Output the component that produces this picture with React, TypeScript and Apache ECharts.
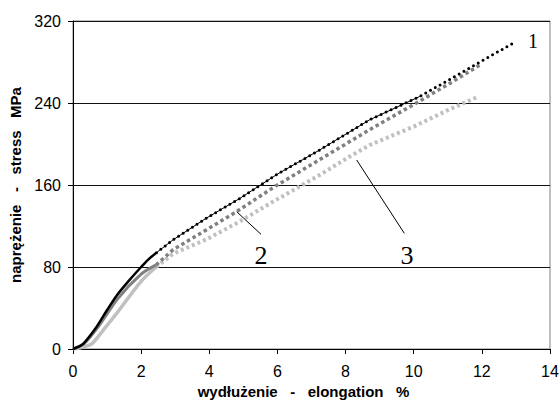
import React, { useEffect, useRef } from "react";
import * as echarts from "echarts";

// Tick labels
const xTicks = [0, 2, 4, 6, 8, 10, 12, 14];
const yTicks = [0, 80, 160, 240, 320];

// Curve 1 (black): dense initial part and dotted tail
const c1Start: [number, number][] = [
  [0, 0], [0.15, 2], [0.3, 5], [0.7, 22], [1.0, 38], [1.3, 53], [1.65, 67], [2.0, 80], [2.2, 87], [2.45, 94],
];
const c1Tail: [number, number][] = [
  [2.45, 94], [2.94, 106.6], [3.92, 127.8], [4.9, 147], [5.97, 170], [7.25, 194.4],
  [8.71, 223.7], [10.18, 246.4], [11, 262], [12, 281], [13, 300],
];

// Curve 2 (dark grey)
const c2Start: [number, number][] = [
  [0, 0], [0.15, 2], [0.35, 6], [0.75, 22], [1.31, 49], [2.0, 73], [2.44, 82],
];
const c2Tail: [number, number][] = [
  [2.44, 82], [2.94, 96.9], [3.92, 116.4], [4.8, 134], [5.9, 158], [7.25, 185],
  [8.71, 214], [10.18, 242], [11, 258], [11.94, 277],
];

// Curve 3 (light grey)
const c3Start: [number, number][] = [
  [0, 0], [0.3, 2], [0.55, 5], [0.9, 19], [1.31, 36], [2.0, 66], [2.44, 80],
];
const c3Tail: [number, number][] = [
  [2.44, 80], [2.94, 93], [3.92, 107], [4.9, 124.5], [5.78, 142], [7.25, 170],
  [8.13, 188], [8.71, 199], [10.0, 217], [11, 233], [11.88, 246],
];

const curveLabels = ["1", "2", "3"];

export default function App() {
  const ref = useRef<HTMLDivElement>(null);
  useEffect(() => {
    if (!ref.current) return;
    const chart = echarts.init(ref.current, null, { renderer: "svg" });
    const tickFont = { fontFamily: "Liberation Sans, Arial, sans-serif", fontSize: 16, color: "#000" };
    const nameFont = { fontFamily: "Liberation Sans, Arial, sans-serif", fontSize: 15, fontWeight: "bold" as const, color: "#000" };
    const serif = "Liberation Serif, Times New Roman, serif";
    chart.setOption({
      animation: false,
      backgroundColor: "#fff",
      grid: {
        left: 73, right: 10, top: 21, bottom: 52,
        outerBoundsMode: "none", containLabel: false,
        show: true, borderColor: "#808080", borderWidth: 1, backgroundColor: "transparent",
      },
      xAxis: {
        type: "value", min: xTicks[0], max: xTicks[xTicks.length - 1], interval: 2,
        name: "wydłużenie   -   elongation   %", nameLocation: "middle", nameGap: 35,
        nameTextStyle: { ...nameFont, padding: [0, 16, 0, 0] },
        axisLine: { show: true, lineStyle: { color: "#000", width: 1 } },
        axisTick: { show: true, inside: false, length: 5, lineStyle: { color: "#000" } },
        axisLabel: { ...tickFont, margin: 14 },
        splitLine: { show: false },
      },
      yAxis: {
        type: "value", min: yTicks[0], max: yTicks[yTicks.length - 1], interval: 80,
        name: "naprężenie   -   stress   MPa", nameLocation: "middle", nameGap: 47,
        nameTextStyle: nameFont,
        axisLine: { show: true, lineStyle: { color: "#000", width: 1 } },
        axisTick: { show: true, inside: false, length: 5, lineStyle: { color: "#000" } },
        axisLabel: { ...tickFont, margin: 12 },
        splitLine: { show: true, lineStyle: { color: "#111", width: 1 } },
      },
      series: [
        { type: "line", data: c3Start, smooth: 0.3, showSymbol: false, lineStyle: { color: "#c0c0c0", width: 3.5 } },
        { type: "line", data: c3Tail, showSymbol: false, lineStyle: { color: "#c0c0c0", width: 4, type: [3, 3] } },
        { type: "line", data: c2Start, smooth: 0.3, showSymbol: false, lineStyle: { color: "#808080", width: 3 } },
        { type: "line", data: c2Tail, showSymbol: false, lineStyle: { color: "#808080", width: 3.5, type: [3.5, 3] } },
        { type: "line", data: c1Start, smooth: 0.3, showSymbol: false, lineStyle: { color: "#000", width: 2.5 } },
        { type: "line", data: c1Tail.filter((p) => p[0] <= 10.2), showSymbol: false, lineStyle: { color: "#000", width: 1 } },
        { type: "line", data: c1Tail, showSymbol: false, lineStyle: { color: "#000", width: 3, type: [0, 5.5], cap: "round" } },
      ],
      graphic: [
        { type: "line", shape: { x1: 236.7, y1: 211.7, x2: 261, y2: 234.3 }, style: { stroke: "#000", lineWidth: 1 } },
        { type: "line", shape: { x1: 356.7, y1: 160, x2: 404.3, y2: 233.3 }, style: { stroke: "#000", lineWidth: 1 } },
        { type: "text", x: 533, y: 41, style: { text: curveLabels[0], font: `20px ${serif}`, fill: "#000", align: "center", verticalAlign: "middle" } },
        { type: "text", x: 261, y: 255, style: { text: curveLabels[1], font: `26px ${serif}`, fill: "#000", align: "center", verticalAlign: "middle" } },
        { type: "text", x: 407, y: 255, style: { text: curveLabels[2], font: `26px ${serif}`, fill: "#000", align: "center", verticalAlign: "middle" } },
      ],
    });
    return () => chart.dispose();
  }, []);
  return <div ref={ref} style={{ position: "fixed", left: 0, top: 0, width: 560, height: 401 }} />;
}
